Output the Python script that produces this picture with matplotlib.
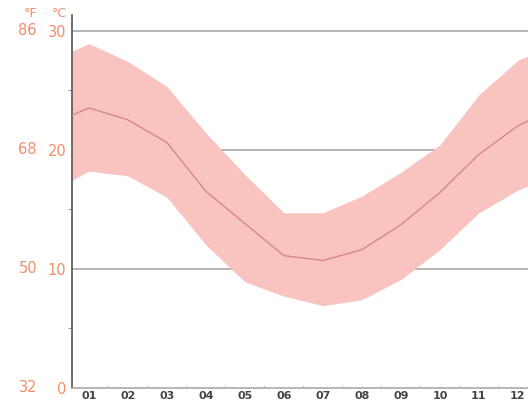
import matplotlib.pyplot as plt
import matplotlib.transforms as mtransforms

# monthly climate data (deg C); first/last points are half-month edges
months = [0.5, 1, 2, 3, 4, 5, 6, 7, 8, 9, 10, 11, 12, 12.5]
mean_temp = [22.8, 23.5, 22.5, 20.6, 16.5, 13.8, 11.1, 10.7, 11.6, 13.7, 16.4, 19.6, 22.0, 22.8]
max_temp = [28.2, 28.9, 27.4, 25.3, 21.4, 17.9, 14.7, 14.7, 16.1, 18.1, 20.4, 24.6, 27.5, 28.2]
min_temp = [17.3, 18.2, 17.8, 16.0, 12.0, 8.9, 7.7, 6.9, 7.4, 9.1, 11.6, 14.7, 16.6, 17.3]
month_labels = ['01', '02', '03', '04', '05', '06', '07', '08', '09', '10', '11', '12']
c_ticks = [0, 10, 20, 30]
f_ticks = [32, 50, 68, 86]

label_col = '#f08e6a'
band_col = '#f9c3bf'
line_col = '#d8868b'

fig = plt.figure(figsize=(5.28, 4.07), dpi=100)
ax = fig.add_axes([0.136, 0.047, 0.864, 0.916])

for t in [10, 20, 30]:
    ax.axhline(t, color='#a8a8a8', lw=1.2, zorder=1)

ax.fill_between(months, min_temp, max_temp, color=band_col, lw=0, zorder=2)
ax.plot(months, mean_temp, color=line_col, lw=1.0, zorder=3)

ax.set_xlim(0.56, 12.26)
ax.set_ylim(0, 31.3)

ax.set_xticks(range(1, 13))
ax.set_xticklabels(month_labels, fontsize=8, fontweight='bold', color='#444444')
ax.set_xticks([x + 0.5 for x in range(1, 12)], minor=True)
ax.tick_params(axis='x', which='major', length=0, pad=2.5)
ax.tick_params(axis='x', which='minor', length=2, direction='in', color='#bbbbbb')

ax.set_yticks(c_ticks)
ax.set_yticklabels([str(c) for c in c_ticks], fontsize=10.5, color=label_col)
ax.set_yticks([5, 15, 25], minor=True)
ax.tick_params(axis='y', which='major', length=0, pad=4)
ax.tick_params(axis='y', which='minor', length=3, color='#888888')

trans = mtransforms.blended_transform_factory(fig.transFigure, ax.transData)
for c, f in zip(c_ticks, f_ticks):
    ax.text(0.07, c, str(f), transform=trans, ha='right', va='center',
            fontsize=10.5, color=label_col)
fig.text(0.07, 0.968, '°F', ha='right', va='center', fontsize=9, color=label_col)
fig.text(0.127, 0.968, '°C', ha='right', va='center', fontsize=9, color=label_col)

for s in ['top', 'right']:
    ax.spines[s].set_visible(False)
ax.spines['left'].set_color('#555555')
ax.spines['left'].set_linewidth(1.2)
ax.spines['bottom'].set_color('#aaaaaa')
ax.spines['bottom'].set_linewidth(1.2)

plt.savefig('out.png', dpi=100)
plt.close()
